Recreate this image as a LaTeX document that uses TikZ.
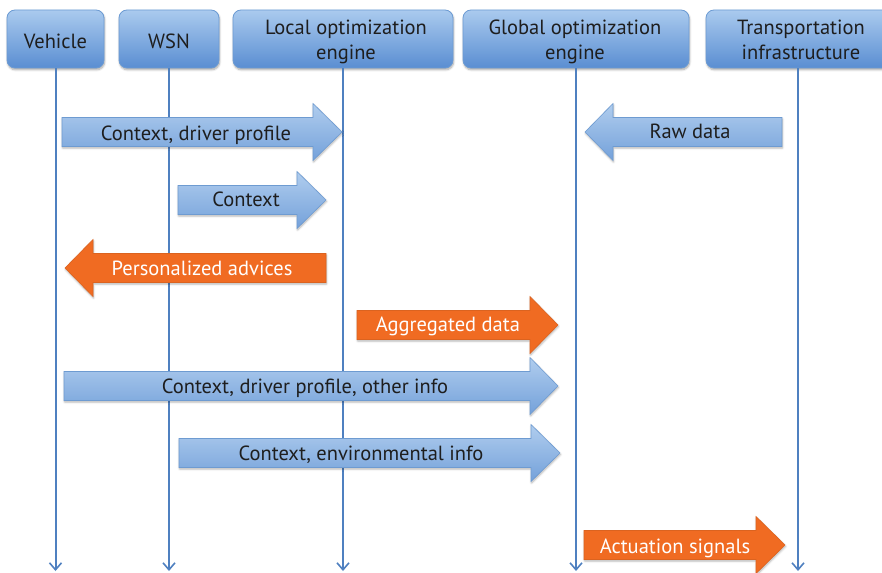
\documentclass[tikz,border=0pt]{standalone}
\usepackage{fontspec}
\setmainfont{PT Sans}
\usetikzlibrary{arrows.meta,shadows.blur}
\definecolor{hdtop}{HTML}{AACAEE}
\definecolor{hdbot}{HTML}{5A8ED2}
\definecolor{hdline}{HTML}{6C9BD3}
\definecolor{artop}{HTML}{B0CDEE}
\definecolor{arbot}{HTML}{74A1DA}
\definecolor{arline}{HTML}{6E9BD1}
\definecolor{orfill}{HTML}{F06B22}
\definecolor{orline}{HTML}{DB6320}
\definecolor{lifec}{HTML}{4F80C0}
\definecolor{txt}{HTML}{1E1E1E}
\tikzset{
  header/.style={draw=hdline, line width=0.8pt, rounded corners=8pt, top color=hdtop, bottom color=hdbot,
    blur shadow={shadow blur steps=6, shadow xshift=0.6pt, shadow yshift=-1.8pt, shadow opacity=35},
    inner sep=0pt, minimum height=58pt},
  headtxt/.style={text=txt, align=center, inner sep=0pt, anchor=base, font=\fontsize{20.5}{25}\selectfont},
  life/.style={draw=lifec, line width=2pt, -{Straight Barb[length=7pt,width=12pt,line width=1.6pt]}},
  bluearr/.style={draw=arline, line width=0.6pt, top color=artop, bottom color=arbot,
    blur shadow={shadow blur steps=5, shadow xshift=0.5pt, shadow yshift=-1.5pt, shadow opacity=30}},
  orarr/.style={draw=orline, line width=0.6pt, fill=orfill,
    blur shadow={shadow blur steps=5, shadow xshift=0.5pt, shadow yshift=-1.5pt, shadow opacity=30}},
  bluetxt/.style={text=txt, inner sep=0pt, anchor=base, font=\fontsize{20.5}{24}\selectfont},
  ortxt/.style={text=white, inner sep=0pt, anchor=base, font=\fontsize{20.5}{24}\selectfont},
}
% #1 style, #2 far end x, #3 head base x, #4 tip x, #5 centre y
\newcommand\blockarr[5]{%
  \path[#1] (#2,#5-14.5) -- (#3,#5-14.5) -- (#3,#5-28.5) -- (#4,#5) -- (#3,#5+28.5) -- (#3,#5+14.5) -- (#2,#5+14.5) -- cycle;}
\begin{document}
\begin{tikzpicture}[x=1pt,y=-1pt]
\useasboundingbox (0,0) rectangle (882,572);
\coordinate (bottom) at (0,571);
% headers
\node[header, minimum width=97pt] (veh) at (55.5,39) {};
\node[header, minimum width=100pt] (wsn) at (169,39) {};
\node[header, minimum width=220pt] (loc) at (343,39) {};
\node[header, minimum width=226pt] (glo) at (576,39) {};
\node[header, minimum width=190pt] (tra) at (801,39) {};
\node[headtxt] (vehT) at (55.5,49) {Vehicle};
\node[headtxt] (wsnT) at (169,49) {WSN};
\node[headtxt] (locT) at (346,60) {Local optimization\\engine};
\node[headtxt] (gloT) at (575,60) {Global optimization\\engine};
\node[headtxt] (traT) at (801,60) {Transportation\\infrastructure};
% lifelines
\draw[life] (veh.south) -- (veh.south |- bottom);
\draw[life] (wsn.south) -- (wsn.south |- bottom);
\draw[life] (loc.south) -- (loc.south |- bottom);
\draw[life] (glo.south) -- (glo.south |- bottom);
\draw[life] ([xshift=-3pt]tra.south) -- ([xshift=-3pt]tra.south |- bottom);
% messages
\blockarr{bluearr}{62}{313}{342}{132}
\node[bluetxt] (m1) at (196,141) {Context, driver profile};
\blockarr{bluearr}{782}{613}{585}{132}
\node[bluetxt] (m2) at (690,139) {Raw data};
\blockarr{bluearr}{178}{297}{326}{200}
\node[bluetxt] (m3) at (246,206) {Context};
\blockarr{orarr}{326}{93}{65}{268}
\node[ortxt] (m4) at (202,275) {Personalized advices};
\blockarr{orarr}{357}{530}{558}{325}
\node[ortxt] (m5) at (448,331) {Aggregated data};
\blockarr{bluearr}{64}{530}{558}{386}
\node[bluetxt] (m6) at (305,393) {Context, driver profile, other info};
\blockarr{bluearr}{179}{531}{560}{453}
\node[bluetxt] (m7) at (361,460) {Context, environmental info};
\blockarr{orarr}{584}{756}{785}{545}
\node[ortxt] (m8) at (675,553) {Actuation signals};
\end{tikzpicture}
\end{document}
